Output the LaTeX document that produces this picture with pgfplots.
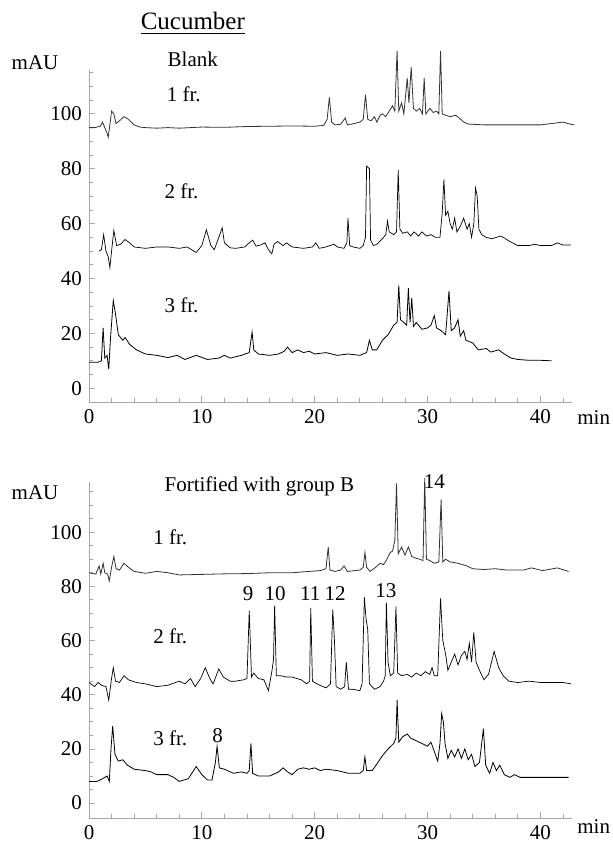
\documentclass[border=0pt]{standalone}
\usepackage{fontspec}
\setmainfont{Liberation Serif}
\usepackage{pgfplots}
\pgfplotsset{compat=1.18}
\tikzset{lbl/.style={font=\fontsize{10.5}{12}\selectfont, inner sep=0pt}}
\pgfplotsset{
  chrom/.style={
    scale only axis, width=241.5pt,
    xmin=0, xmax=42.8,
    axis x line*=bottom, axis y line*=left,
    axis line style={gray!70, line width=0.4pt},
    xtick={0,10,20,30,40},
    minor xtick={2,4,6,8,12,14,16,18,22,24,26,28,32,34,36,38,42},
    ytick={0,20,40,60,80,100},
    minor ytick={5,10,15,25,30,35,45,50,55,65,70,75,85,90,95,105,110,115},
    tick style={gray!70, line width=0.4pt},
    major tick length=3pt, minor tick length=2pt,
    tick align=inside,
    ticklabel style={font=\fontsize{10.5}{12}\selectfont},
    /pgf/number format/assume math mode=true,
    clip=false,
    cycle list={{black!80, line width=0.35pt, mark=none}},
  }
}
\begin{document}
\begin{tikzpicture}
\path[use as bounding box] (0,0) rectangle (306.5pt,420.5pt);
% ---------------- top panel: Blank ----------------
\begin{axis}[chrom, at={(44.5pt,219.5pt)}, anchor=south west, height=166pt, ymin=-5, ymax=116]
\addplot coordinates {(0,95)(0.5,95)(1.0,95.5)(1.2,97)(1.4,95)(1.6,93)(1.7,91.5)(1.85,96)(2.0,101)(2.2,100)(2.4,96.5)(2.7,97.5)(3.1,99)(3.5,98)(4,96)(4.5,95.2)(5,95)(6,94.8)(7,95)(8,94.8)(9,95)(10,95.2)(12,95.1)(14,95.4)(16,95.5)(18,95.6)(20,95.5)(20.8,95.8)(21.1,98)(21.3,106)(21.5,97)(21.8,96)(22.3,96.2)(22.7,98.5)(22.9,96)(23.5,96.5)(24,97)(24.3,98)(24.5,107)(24.7,98)(25,97.5)(25.3,99)(25.5,97)(25.8,99.5)(26,100)(26.3,99)(26.6,101)(26.9,103)(27.1,101)(27.3,123)(27.45,101)(27.7,104)(27.9,100)(28.2,113)(28.35,104)(28.55,117)(28.75,102)(29,101)(29.3,102)(29.55,100)(29.7,113)(29.85,100)(30.2,102)(30.5,100.5)(30.8,101)(31.0,100)(31.15,123)(31.3,100)(31.6,99.5)(32,99)(32.5,99.5)(32.8,98.5)(33.2,97)(33.6,96.3)(35,96)(36,96)(38,96)(40,96)(41,96.5)(42,97)(42.6,96.3)(43,96)};
\addplot coordinates {(0.9,50)(1.1,50.5)(1.3,56)(1.5,50)(1.7,48)(1.85,44)(2.0,50)(2.2,57.5)(2.45,52)(2.8,52.5)(3.2,54.2)(3.6,53)(4,51.5)(5,51)(6,51.5)(7,51.5)(8,51)(8.7,51.5)(9.5,49.5)(10.0,52)(10.4,57.8)(10.8,52)(11.1,50.5)(11.5,55)(11.8,58.5)(12.0,53)(12.5,51.2)(13,51)(13.8,51.5)(14.2,53)(14.5,54)(14.8,51.8)(15.2,52.2)(15.6,53)(15.9,50.5)(16.2,49)(16.4,52.5)(16.7,53.5)(17.2,52)(17.5,53)(18,51.5)(19,51)(19.8,51.5)(20.1,53)(20.4,51)(21,51.5)(21.7,52.5)(22,51.5)(22.6,51)(22.85,53)(22.95,62)(23.1,52)(23.4,51.5)(24,51)(24.3,52)(24.5,55)(24.6,81)(24.85,80)(24.95,54)(25.2,52)(25.5,52.5)(26,54.5)(26.3,56)(26.45,61)(26.6,57)(27,56)(27.25,57)(27.4,79.5)(27.55,58)(27.8,56.5)(28.2,57)(28.5,55.5)(28.8,57)(29.2,55.5)(29.5,57)(29.9,55.5)(30.3,56)(30.7,55)(31.1,55)(31.3,64)(31.45,76)(31.6,63)(31.8,64.5)(32,60)(32.2,58)(32.4,62)(32.6,57)(32.9,59)(33.2,62)(33.5,58)(33.7,60)(33.9,55)(34.1,60)(34.25,73)(34.4,70)(34.55,58)(34.8,56)(35.2,55)(35.7,54.5)(36.5,55.5)(37.3,53.5)(38,52)(39,52)(39.5,52.5)(40,52)(41,52)(41.5,53)(42,52.2)(42.7,52.2)};
\addplot coordinates {(0,9.5)(0.8,9.5)(1.1,10)(1.25,22)(1.4,11)(1.6,12)(1.75,7)(1.9,18)(2.15,32)(2.35,27)(2.6,19.5)(3,17.5)(3.2,18.5)(3.6,16)(4.2,14)(5,12.5)(6,12)(7,11.2)(7.8,12)(8.5,10.5)(9.5,12)(10.5,10.5)(11.5,11)(12,12)(12.5,11)(13.5,12)(14.2,13)(14.45,20.5)(14.6,14)(15,12.5)(16,12)(16.8,12.5)(17.3,13.5)(17.6,15)(18,13)(18.5,14)(19,13)(19.5,13.5)(20,12.5)(21,13)(22,12)(23,12.5)(24,12)(24.6,13)(24.85,17.5)(25.1,14)(25.5,14)(26,17.5)(26.5,19.5)(27,23)(27.3,24)(27.45,37.5)(27.6,25)(27.9,24)(28.15,23)(28.3,36.5)(28.45,24)(28.6,33)(28.75,22.5)(29,24)(29.5,21.5)(30,22)(30.3,23)(30.6,26.5)(30.8,22)(31.2,21)(31.6,19.5)(31.9,35.5)(32.1,21)(32.4,22)(32.7,25)(32.9,19)(33.2,21)(33.4,17.5)(34,16.5)(34.5,14)(35.2,14.5)(35.6,13.2)(36.3,14)(36.8,12.5)(37.4,11)(38,10.5)(39,10.2)(40,10.2)(41,10)};
\node[lbl, font=\fontsize{12.5}{14}\selectfont] at (axis cs:9.2,133) {\underline{Cucumber}};
\node[lbl] at (axis cs:9.2,120) {Blank};
\node[lbl] at (axis cs:8.4,107.2) {1 fr.};
\node[lbl] at (axis cs:8.2,71.7) {2 fr.};
\node[lbl] at (axis cs:8.2,30.1) {3 fr.};
\end{axis}
\node[lbl] at (17.5pt,389pt) {mAU};
\node[lbl, anchor=west] at (288.5pt,211.5pt) {min};
% ---------------- bottom panel: Fortified ----------------
\begin{axis}[chrom, at={(44.5pt,11.5pt)}, anchor=south west, height=168pt, ymin=-5.5, ymax=118.5]
\addplot coordinates {(0,85)(0.6,84.5)(0.9,87.5)(1.05,84.5)(1.25,88.5)(1.4,85)(1.65,84.5)(1.8,82)(2.0,87)(2.2,91)(2.4,86.5)(2.7,86)(3.1,88.5)(3.5,87)(4,85.5)(5,84.8)(6,85.5)(7,85)(8,84.2)(10,84.4)(12,84.6)(14,84.7)(16,85)(18,85)(19.5,85.5)(20.5,85.8)(21,86.5)(21.2,94.5)(21.35,86)(21.8,85.5)(22.3,86)(22.6,87.5)(22.9,85.5)(24,86)(24.3,87)(24.45,92.5)(24.6,87)(24.9,85.5)(25.4,87)(25.8,88.5)(26.1,88)(26.4,90)(26.7,92.5)(26.9,93)(27.1,97)(27.25,118)(27.4,92)(27.7,94.5)(28,91.5)(28.3,94.5)(28.6,91)(28.9,90.5)(29.3,90)(29.6,89.5)(29.75,120)(29.9,90)(30.2,89.5)(30.6,88.5)(31.0,89)(31.2,112)(31.35,89)(31.6,90)(32,89)(32.7,88.5)(33.5,87.5)(34,86.5)(35,86.2)(36,86.5)(37,86)(38.5,86)(39.2,86.8)(40.2,85.8)(41.5,86.8)(42.5,85.5)};
\addplot coordinates {(0,44.5)(0.5,43)(0.8,44.5)(1.1,43.5)(1.5,43)(1.75,38)(2.0,46)(2.15,50)(2.35,45)(2.7,44.5)(3.1,47)(3.5,45.5)(4.2,44.5)(5,44)(6,43)(7,43.5)(8,45)(8.5,44)(9.0,46)(9.4,43)(9.9,46)(10.3,50)(10.7,46)(11.0,44)(11.5,49.5)(11.9,46.5)(12.5,45)(13,45)(13.7,45.5)(14.0,46)(14.2,71)(14.4,46.5)(14.6,48)(15,46)(15.5,45.5)(15.9,41.5)(16.2,48.5)(16.35,53)(16.45,73)(16.6,47)(17,47)(17.5,46.5)(18,46.5)(18.8,45.5)(19.3,44)(19.55,45)(19.65,72)(19.8,45)(20.2,44)(21,42.5)(21.4,44)(21.6,71.5)(21.75,60)(21.9,43)(22.3,42)(22.65,43)(22.8,52)(23,42)(23.4,42)(24,41.5)(24.2,44)(24.4,76)(24.55,68)(24.7,64)(24.85,44)(25.3,42)(25.8,43)(26.1,45)(26.25,47)(26.35,74)(26.5,52)(26.7,47)(27.0,48)(27.2,72.5)(27.35,48)(27.7,47)(28.2,47.5)(28.6,46.5)(29,48)(29.4,47)(29.8,48.5)(30.2,47.5)(30.4,50)(30.6,47)(30.9,47)(31.15,75.5)(31.35,60)(31.6,55)(31.8,49)(32.1,52)(32.4,55)(32.7,51)(33,54.5)(33.3,56)(33.5,53)(33.7,59)(33.9,52)(34.1,63)(34.3,52)(34.6,49)(35,45.5)(35.4,47.5)(35.9,56)(36.3,50)(36.7,47)(37.2,45)(38,44.5)(39,45)(40,44.5)(41,44.5)(42,44.5)(42.7,44)};
\addplot coordinates {(0,8)(0.7,8)(1.2,9)(1.6,10)(1.8,8)(1.95,20)(2.1,28.5)(2.3,18)(2.6,15.5)(3.0,16)(3.4,14)(4,12.5)(5,12)(5.5,11.5)(6,10.5)(7,10.5)(7.5,9.5)(8,8)(8.8,9)(9.5,13.5)(10,10.5)(10.5,8.5)(10.9,8.5)(11.2,15)(11.35,21)(11.55,13)(12,12.5)(12.8,11)(13.5,11.5)(14,11)(14.2,12)(14.35,22)(14.5,11)(15,10)(16,10)(16.8,11.5)(17.2,13)(17.6,11.5)(18,10.5)(18.5,12.5)(19,13)(19.5,12.5)(20,13)(20.5,12)(21,12.5)(22,12)(23,11)(24,11)(24.3,12)(24.45,17)(24.6,12)(25.1,12)(25.6,15)(26,17.5)(26.5,20)(27,22)(27.2,24)(27.3,38)(27.45,22.5)(27.8,24.5)(28.2,25.5)(28.5,24)(29,23)(29.5,22)(30,21)(30.3,22.5)(30.6,19)(30.9,15.5)(31.1,22)(31.25,33)(31.4,30)(31.55,22)(31.8,16.5)(32.1,19.5)(32.4,17)(32.7,20)(33,16.5)(33.3,20)(33.6,16)(33.9,18)(34.2,13.5)(34.6,15)(34.95,27.5)(35.15,14)(35.5,11)(35.8,15)(36.1,12)(36.4,14)(36.8,10.5)(37.3,9.5)(37.7,10.5)(38.2,9.5)(40,9.5)(42.5,9.5)};
\node[lbl] at (axis cs:15.1,116.8) {Fortified with group B};
\node[lbl] at (axis cs:7.2,98.2) {1 fr.};
\node[lbl] at (axis cs:7.2,61.7) {2 fr.};
\node[lbl] at (axis cs:7.2,24) {3 fr.};
\node[lbl] at (axis cs:14.1,77.2) {9};
\node[lbl] at (axis cs:16.5,77.2) {10};
\node[lbl] at (axis cs:19.6,77.2) {11};
\node[lbl] at (axis cs:21.8,77.2) {12};
\node[lbl] at (axis cs:26.3,78.4) {13};
\node[lbl] at (axis cs:30.6,118.5) {14};
\node[lbl] at (axis cs:11.4,25) {8};
\end{axis}
\node[lbl] at (17.5pt,174pt) {mAU};
\node[lbl, anchor=west] at (288.5pt,7pt) {min};
\end{tikzpicture}
\end{document}
